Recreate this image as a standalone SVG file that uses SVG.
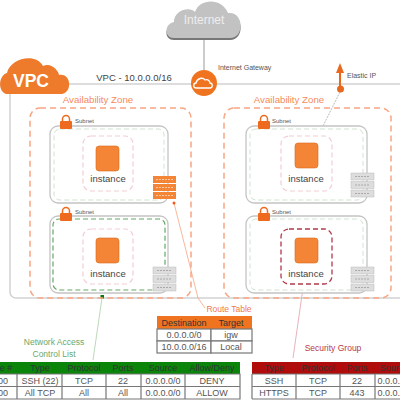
<svg xmlns="http://www.w3.org/2000/svg" width="400" height="400" viewBox="0 0 400 400">
<defs>
<style>
text{font-family:"Liberation Sans",Arial,sans-serif}
.az{fill:none;stroke:#f8a583;stroke-width:1.5;stroke-dasharray:6 4}
.sub{fill:#fff;stroke:#c4c4c4;stroke-width:1.3}
.subin{fill:none;stroke:#cfe3cf;stroke-width:1;stroke-dasharray:5 3}
.inst{fill:none;stroke:#f2cdd2;stroke-width:1.2;stroke-dasharray:5 3}
.sq{fill:#f58536;stroke:#d9691c;stroke-width:.6}
.it{font-size:9.5px;fill:#444;text-anchor:middle}
.azt{font-size:9.700px;fill:#f58a5b;text-anchor:middle}
.st{font-size:6px;fill:#555}
.th{font-size:9px;fill:#333;text-anchor:middle}
.td{font-size:9px;fill:#555;text-anchor:middle}
.cell{fill:#fff;stroke:#777;stroke-width:1.2}
</style>
<g id="lock"><rect x="-6" y="-1" width="12" height="8" rx="1" fill="#ee6a1f"/><path d="M-3.500 -1v-2a3.500 3.500 0 0 1 7 0V-1" fill="none" stroke="#ee6a1f" stroke-width="1.500"/></g>
<g id="fw"><rect x="0" y="0" width="23" height="7" fill="#ddd" stroke="#bbb" stroke-width=".5"/><rect x="0" y="8.500" width="23" height="7" fill="#ddd" stroke="#bbb" stroke-width=".5"/><rect x="0" y="17" width="23" height="7" fill="#ddd" stroke="#bbb" stroke-width=".5"/><path d="M4 3.500h15M4 12h15M4 20.500h15" stroke="#aaa" stroke-dasharray="2 1"/></g>
<g id="fwo"><rect x="0" y="0" width="23" height="7" fill="#f58536"/><rect x="0" y="8" width="23" height="7" fill="#f58536"/><rect x="0" y="16" width="23" height="7" fill="#f58536"/><path d="M3 3.500h17M3 11.500h17M3 19.500h17" stroke="#fbc9a6" stroke-dasharray="2 1"/></g>
</defs>
<rect width="400" height="400" fill="#fff"/>
<g id="vpc-box"><path d="M400 84H16a6 6 0 0 0-6 6V292a6 6 0 0 0 6 6H400" fill="none" stroke="#d2d2d2" stroke-width="1.500"/></g>
<g id="connectors">
<path d="M204 38V70" stroke="#aaa" stroke-width="1.200"/>
<path d="M340 92L317 138" stroke="#aaa" stroke-width=".8" stroke-dasharray="2 1"/>
<path d="M174 203L198 298L205 308" stroke="#f8a583" stroke-width=".8" fill="none"/>
<circle cx="174" cy="203" r="1.500" fill="#ee5a1f"/>
<path d="M102 298L93 360" stroke="#a9cfa9" stroke-width=".8"/>
<rect x="100.500" y="295" width="3.500" height="3.500" fill="#0a7a0a"/>
<path d="M303 288L293 358" stroke="#e2a0a8" stroke-width=".8"/>
<circle cx="303" cy="288" r="1.500" fill="#a8102a"/>
<path d="M340 88V66" stroke="#e8691e" stroke-width="2"/>
<path d="M340 63L336 73H344Z" fill="#e8691e"/>
<circle cx="340.500" cy="89" r="3.500" fill="#e8691e"/>
</g>
<g id="internet"><path d="M174 38C164 38 164 24 174 22C174 10 190 6 195 12C200 -2 222 -2 228 13C244 11 245 38 230 38Z" fill="#777" transform="translate(0 2)"/><path d="M174 38C164 38 164 24 174 22C174 10 190 6 195 12C200 -2 222 -2 228 13C244 11 245 38 230 38Z" fill="#c2c2c2"/><text x="204" y="24" font-size="12" fill="#eee" text-anchor="middle">Internet</text></g>
<g id="vpc"><path d="M6 94C-3 91 -1 75 7 73C10 59 35 52 43 66C52 62 59 72 59 75C72 73 72 93 62 94Z" fill="#ee7a2c"/><text x="31" y="87" font-size="17.500" font-weight="bold" fill="#fff" text-anchor="middle">VPC</text></g>
<text x="134" y="81" font-size="9.500" fill="#444" text-anchor="middle">VPC - 10.0.0.0/16</text>
<g id="igw"><circle cx="204" cy="83" r="13" fill="#f0741f"/><path d="M196 88c-3 0-3-5 0-5c1-5 7-6 9-3c3-1 5 1 5 3c3 0 3 5 0 5Z" fill="none" stroke="#fff" stroke-width="1.300"/><text x="218" y="70" font-size="7" fill="#555">Internet Gateway</text></g>
<text x="347" y="78" font-size="7" fill="#555">Elastic IP</text>
<g id="az-left"><rect x="30" y="108" width="161" height="190" rx="10" class="az"/><text x="98" y="103" class="azt">Availability Zone</text></g>
<g id="az-right"><rect x="224" y="108" width="167" height="190" rx="10" class="az"/><text x="289" y="103" class="azt">Availability Zone</text></g>
<g id="subnet-1"><rect x="50" y="126" width="118" height="77" rx="8" class="sub"/><rect x="54" y="129" width="110" height="71" rx="6" class="subin"/><use href="#lock" x="66" y="122"/><text x="75" y="123" class="st">Subnet</text></g>
<g id="subnet-2"><rect x="50" y="216" width="118" height="77" rx="8" class="sub"/><rect x="53" y="219" width="112" height="71" rx="6" fill="none" stroke="#62a862" stroke-width="1.200" stroke-dasharray="5 3"/><use href="#lock" x="66" y="214"/><text x="75" y="214" class="st">Subnet</text></g>
<g id="subnet-3"><rect x="246" y="126" width="121" height="77" rx="8" class="sub"/><rect x="250" y="129" width="113" height="71" rx="6" class="subin"/><use href="#lock" x="264" y="122"/><text x="272" y="123" class="st">Subnet</text></g>
<g id="subnet-4"><rect x="246" y="216" width="121" height="77" rx="8" class="sub"/><rect x="250" y="219" width="113" height="71" rx="6" class="subin"/><use href="#lock" x="264" y="214"/><text x="272" y="214" class="st">Subnet</text></g>
<g id="instance-1"><rect x="83" y="136" width="50" height="55" rx="8" class="inst"/><rect x="96" y="146" width="23" height="25" rx="3" class="sq"/><text x="108" y="182" class="it">instance</text></g>
<g id="instance-2"><rect x="83" y="229" width="50" height="55" rx="8" class="inst"/><rect x="96" y="238" width="23" height="25" rx="3" class="sq"/><text x="108" y="277" class="it">instance</text></g>
<g id="instance-3"><rect x="281" y="136" width="51" height="55" rx="8" class="inst"/><rect x="295" y="143" width="23" height="25" rx="3" class="sq"/><text x="306" y="182" class="it">instance</text></g>
<g id="instance-4"><rect x="281" y="229" width="51" height="55" rx="8" fill="none" stroke="#b03a4a" stroke-width="1.300" stroke-dasharray="5 3"/><rect x="295" y="238" width="23" height="25" rx="3" class="sq"/><text x="306" y="277" class="it">instance</text></g>
<g id="route-icon"><use href="#fwo" x="153" y="176"/></g>
<g id="fw-2"><use href="#fw" x="153" y="267"/></g>
<g id="fw-3"><use href="#fw" x="351" y="173"/></g>
<g id="fw-4"><use href="#fw" x="351" y="267"/></g>
<text x="229" y="312" font-size="8.500" fill="#ee7a4a" text-anchor="middle">Route Table</text>
<g id="route-table">
<rect x="157" y="316" width="95" height="13" fill="#f0741f"/>
<rect x="157" y="329" width="54" height="12" class="cell"/><rect x="211" y="329" width="41" height="12" class="cell"/>
<rect x="157" y="341" width="54" height="12" class="cell"/><rect x="211" y="341" width="41" height="12" class="cell"/>
<text x="184" y="326" class="th">Destination</text><text x="231" y="326" class="th">Target</text>
<text x="184" y="338" class="td">0.0.0.0/0</text><text x="231" y="338" class="td">igw</text>
<text x="184" y="350" class="td">10.0.0.0/16</text><text x="231" y="350" class="td">Local</text>
</g>
<text x="54" y="345" font-size="8.500" fill="#6aa86a" text-anchor="middle">Network Access</text>
<text x="54" y="357" font-size="8.500" fill="#6aa86a" text-anchor="middle">Control List</text>
<text x="333" y="351" font-size="8.500" fill="#b8394a" text-anchor="middle">Security Group</text>
<g id="nacl">
<rect x="0" y="362" width="240" height="12" fill="#0a850a"/>
<path d="M0 374H240V399H0M17 374V399M62 374V399M106 374V399M141 374V399M185 374V399M0 386.500H240" fill="none" stroke="#777" stroke-width="1.200"/>
<text x="5" y="371" class="th">le #</text><text x="40" y="371" class="th">Type</text><text x="84" y="371" class="th">Protocol</text><text x="123" y="371" class="th">Ports</text><text x="163" y="371" class="th">Source</text><text x="212" y="371" class="th">Allow/Deny</text>
<text x="3" y="384" class="td">00</text><text x="40" y="384" class="td">SSH (22)</text><text x="84" y="384" class="td">TCP</text><text x="123" y="384" class="td">22</text><text x="163" y="384" class="td">0.0.0.0/0</text><text x="212" y="384" class="td">DENY</text>
<text x="3" y="396" class="td">00</text><text x="40" y="396" class="td">All TCP</text><text x="84" y="396" class="td">All</text><text x="123" y="396" class="td">All</text><text x="163" y="396" class="td">0.0.0.0/0</text><text x="212" y="396" class="td">ALLOW</text>
</g>
<g id="sg">
<rect x="252" y="362" width="148" height="12" fill="#b00c0c"/>
<path d="M252 374V399M400 374H252M252 399H400M296 374V399M340 374V399M375 374V399M252 386.500H400" fill="none" stroke="#777" stroke-width="1.200"/>
<text x="274" y="371" class="th">Type</text><text x="318" y="371" class="th">Protocol</text><text x="357" y="371" class="th">Ports</text><text x="394" y="371" class="th">Source</text>
<text x="274" y="384" class="td">SSH</text><text x="318" y="384" class="td">TCP</text><text x="357" y="384" class="td">22</text><text x="395" y="384" class="td">0.0.0.0/0</text>
<text x="274" y="396" class="td">HTTPS</text><text x="318" y="396" class="td">TCP</text><text x="357" y="396" class="td">443</text><text x="395" y="396" class="td">0.0.0.0/0</text>
</g>
</svg>
